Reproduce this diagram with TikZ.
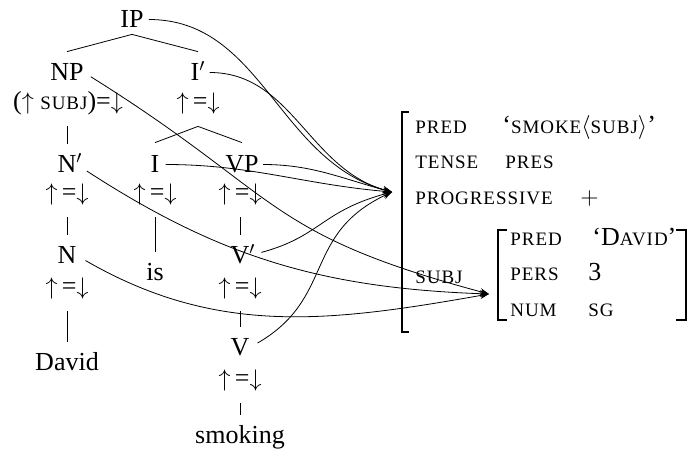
\documentclass[tikz,border=0pt]{standalone}
\usepackage{amsmath}
\usepackage{amssymb}
\usepackage{fontspec}
\setmainfont{Liberation Serif}
\newfontfamily\scfont[LetterSpace=5]{Liberation Serif}
\newcommand{\fsc}[1]{{\scfont\fontsize{9.5}{11}\selectfont\MakeUppercase{#1}}}
\newcommand{\primed}[1]{#1\rlap{$'$}}
\newcommand{\ueqd}{$\uparrow$\,=$\downarrow$}
\usepackage{tikz}
\usetikzlibrary{arrows.meta}

\begin{document}
\begin{tikzpicture}[x=0.5pt,y=-0.5pt,font=\fontsize{13}{15}\selectfont,
    every node/.style={inner sep=0pt,text height=7.5pt,text depth=0pt},
    stem/.style={shorten <=8.5pt,shorten >=6.5pt},
    proj/.style={-{Stealth[length=4.5pt,width=3.5pt]}},
    brk/.style={semithick}]
    \useasboundingbox (0,0) rectangle (700,450);
    % c-structure
    \node[anchor=base] (IP) at (132,27) {IP};
    \node[anchor=base] (NP) at (67,80) {NP};
    \node[anchor=base] (I1) at (198,80) {I$'$};
    \node[anchor=base] (NPe) at (68,109) {($\uparrow$ \fsc{subj})=$\downarrow$};
    \node[anchor=base] (I1e) at (198,109) {\ueqd};
    \node[anchor=base] (N1) at (67,172) {\primed{N}};
    \node[anchor=base] (I) at (155,172) {I};
    \node[anchor=base] (VP) at (242,172) {VP};
    \node[anchor=base] (N1e) at (67,200) {\ueqd};
    \node[anchor=base] (Ie) at (155,200) {\ueqd};
    \node[anchor=base] (VPe) at (240,200) {\ueqd};
    \node[anchor=base] (N) at (67,263) {N};
    \node[anchor=base] (is) at (155,280) {is};
    \node[anchor=base] (V1) at (240,263) {\primed{V}};
    \node[anchor=base] (Ne) at (67,294) {\ueqd};
    \node[anchor=base] (V1e) at (240,294) {\ueqd};
    \node[anchor=base] (David) at (67,370) {David};
    \node[anchor=base] (V) at (240,355) {V};
    \node[anchor=base] (Ve) at (240,386) {\ueqd};
    \node[anchor=base] (smoking) at (240,443) {smoking};
    \draw ([yshift=-3.5pt]IP.south) -- ([yshift=6.5pt]NP.north);
    \draw ([yshift=-3.5pt]IP.south) -- ([yshift=6.5pt]I1.north);
    \draw ([yshift=-8.5pt]I1e.south) -- ([yshift=7pt]I.north);
    \draw ([yshift=-8.5pt]I1e.south) -- ([yshift=7pt]VP.north);
    \draw[stem] (NPe.south -| N1) -- (N1);
    \draw[stem] (N1e) -- (N);
    \draw[stem] (Ne) -- (David);
    \draw[stem] (Ie) -- (is);
    \draw[stem] (VPe) -- (V1);
    \draw[stem] (V1e) -- (V);
    \draw[stem] (Ve) -- (smoking);
    % f-structure
    \draw[brk] (409,112) -- (402,112) -- (402,332) -- (409,332);
    \draw[brk] (507,230) -- (498,230) -- (498,320) -- (507,320);
    \draw[brk] (676,230) -- (686,230) -- (686,320) -- (676,320);
    \node[anchor=base west] (pred) at (415,133) {\fsc{pred}};
    \node[anchor=base west] (predv) at (502,133) {‘\fsc{smoke}$\langle$\fsc{subj}$\rangle$’};
    \node[anchor=base west] (tense) at (415,168) {\fsc{tense}};
    \node[anchor=base west] (tensev) at (505,168) {\fsc{pres}};
    \node[anchor=base west] (prog) at (415,204) {\fsc{progressive}};
    \node[anchor=base west] (progv) at (580,204) {$+$};
    \node[anchor=base west] (subj) at (415,283) {\fsc{subj}};
    \node[anchor=base west] (spred) at (510,245) {\fsc{pred}};
    \node[anchor=base west] (spredv) at (592,245) {‘D\fsc{avid}’};
    \node[anchor=base west] (pers) at (510,280) {\fsc{pers}};
    \node[anchor=base west] (persv) at (588,280) {3};
    \node[anchor=base west] (num) at (510,316) {\fsc{num}};
    \node[anchor=base west] (numv) at (588,316) {\fsc{sg}};
    \coordinate (f1) at (392,192);
    \coordinate (f2) at (489,294);
    % projections
    \draw[proj,shorten <=2.5pt] (IP.east) to[out=0,in=165] (f1);
    \draw[proj,shorten <=2pt] (I1.east) to[out=0,in=165] (f1);
    \draw[proj,shorten <=3pt] (I.east) to[out=0,in=175] (f1);
    \draw[proj,shorten <=2pt] (VP.east) to[out=0,in=165] (f1);
    \draw[proj,shorten <=6pt] (V1.east) to[out=15,in=195,looseness=1.2] (f1);
    \draw[proj,shorten <=4.5pt] (V.east) to[out=30,in=205,looseness=1.2] (f1);
    \draw[proj,shorten <=4pt] (NP.east) to[out=-32,in=165,looseness=1.3] (f2);
    \draw[proj,shorten <=6pt] (N1.east) to[out=-33,in=178] (f2);
    \draw[proj,shorten <=5pt] (N.east) to[out=-30,in=190] (f2);
\end{tikzpicture}
\end{document}
